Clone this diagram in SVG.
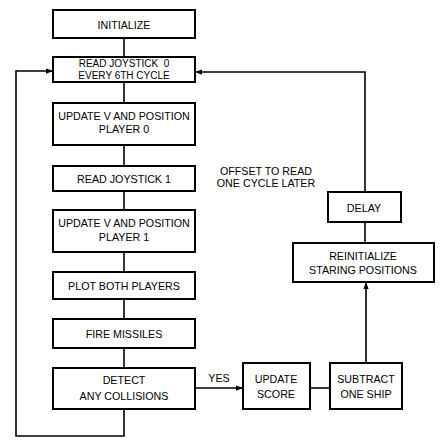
<svg xmlns="http://www.w3.org/2000/svg" width="443" height="443" viewBox="0 0 443 443">
<defs>
<style>
.box{fill:#fff;stroke:#000;stroke-width:2}
.ln{fill:none;stroke:#000;stroke-width:1.6}
text{font-family:"Liberation Sans",Arial,sans-serif;font-size:10.7px;fill:#000;text-anchor:middle;dominant-baseline:central}
.sm{font-size:10px}
</style>
<marker id="ah" viewBox="0 0 8 8" refX="8" refY="4" markerWidth="7" markerHeight="7" orient="auto" markerUnits="userSpaceOnUse">
<path d="M0,1 L8,4 L0,7 Z" fill="#000"/>
</marker>
</defs>
<rect width="443" height="443" fill="#fff"/>
<g id="connectors">
<line class="ln" x1="124" y1="38" x2="124" y2="57"/>
<line class="ln" x1="124" y1="82" x2="124" y2="103"/>
<line class="ln" x1="124" y1="145" x2="124" y2="166"/>
<line class="ln" x1="124" y1="191" x2="124" y2="210"/>
<line class="ln" x1="124" y1="252" x2="124" y2="272"/>
<line class="ln" x1="124" y1="299" x2="124" y2="319"/>
<line class="ln" x1="124" y1="348" x2="124" y2="368"/>
<polyline class="ln" points="124,409 124,436 16,436 16,71 53,71" marker-end="url(#ah)"/>
<polyline class="ln" points="365,192 365,72 195,72" marker-end="url(#ah)"/>
<line class="ln" x1="365" y1="222" x2="365" y2="243"/>
<line class="ln" x1="366" y1="363" x2="366" y2="282" marker-end="url(#ah)"/>
<line class="ln" x1="195" y1="388" x2="243" y2="388" marker-end="url(#ah)"/>
<line class="ln" x1="310" y1="388" x2="330" y2="388"/>
<text x="219" y="378">YES</text>
</g>
<g id="n-initialize"><rect class="box" x="53" y="10" width="142" height="28"/><text x="124" y="25">INITIALIZE</text></g>
<g id="n-read0"><rect class="box" x="53" y="57" width="142" height="25"/><text class="sm" x="124" y="63.5" xml:space="preserve">READ JOYSTICK  0</text><text class="sm" x="124" y="75.5">EVERY 6TH CYCLE</text></g>
<g id="n-update0"><rect class="box" x="53" y="103" width="142" height="42"/><text x="124" y="116">UPDATE V AND POSITION</text><text x="124" y="129">PLAYER 0</text></g>
<g id="n-read1"><rect class="box" x="53" y="166" width="142" height="25"/><text x="124" y="179">READ JOYSTICK 1</text></g>
<g id="n-update1"><rect class="box" x="53" y="210" width="142" height="42"/><text x="124" y="223">UPDATE V AND POSITION</text><text x="124" y="237">PLAYER 1</text></g>
<g id="n-plot"><rect class="box" x="53" y="272" width="142" height="27"/><text x="124" y="286">PLOT BOTH PLAYERS</text></g>
<g id="n-fire"><rect class="box" x="53" y="319" width="142" height="29"/><text x="124" y="334">FIRE MISSILES</text></g>
<g id="n-detect"><rect class="box" x="53" y="368" width="142" height="41"/><text x="124" y="380">DETECT</text><text x="124" y="396">ANY COLLISIONS</text></g>
<g id="n-score"><rect class="box" x="243" y="363" width="67" height="46"/><text x="276" y="379">UPDATE</text><text x="276" y="394">SCORE</text></g>
<g id="n-subtract"><rect class="box" x="330" y="363" width="72" height="46"/><text x="366" y="379">SUBTRACT</text><text x="366" y="394">ONE SHIP</text></g>
<g id="n-reinit"><rect class="box" x="293" y="243" width="141" height="39"/><text x="363" y="256">REINITIALIZE</text><text x="363" y="270">STARING POSITIONS</text></g>
<g id="n-delay"><rect class="box" x="328" y="192" width="73" height="30"/><text x="364" y="208">DELAY</text></g>
<g id="note"><text x="266" y="171">OFFSET TO READ</text><text x="266" y="183">ONE CYCLE LATER</text></g>
</svg>
